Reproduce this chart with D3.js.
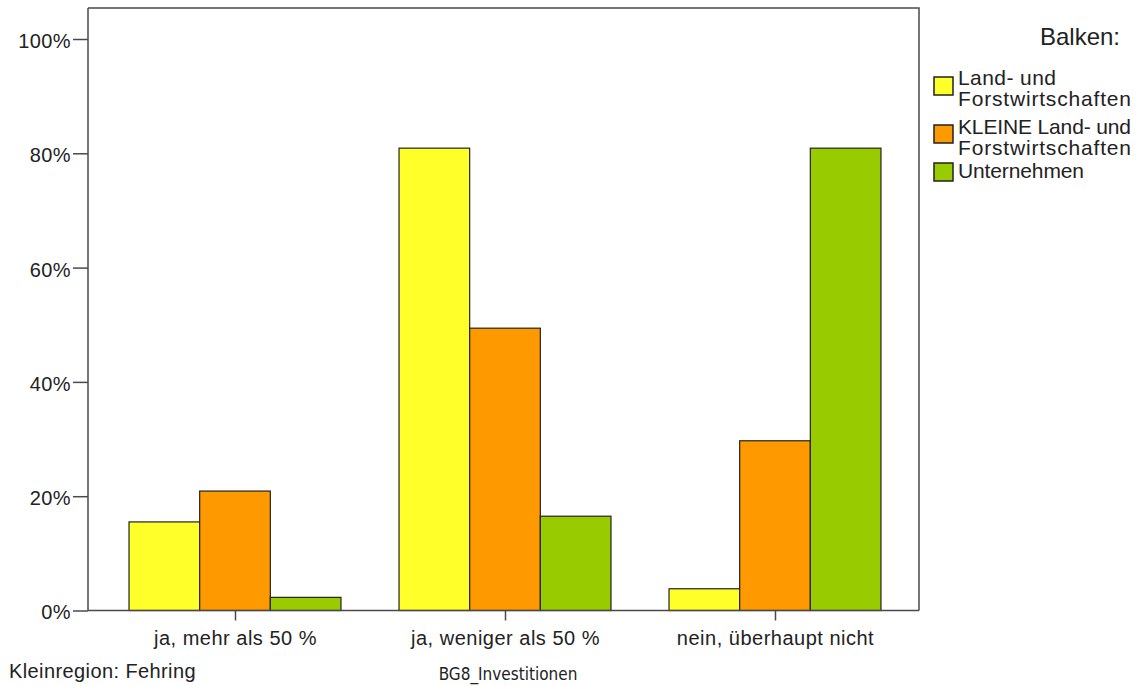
<!DOCTYPE html>
<html><head><meta charset="utf-8">
<script src="https://cdn.jsdelivr.net/npm/d3@7"></script>
<style>body{margin:0;background:#fff}svg{display:block}</style>
</head><body>
<svg id="c" width="1137" height="686"></svg>
<script>
const categories = ["ja, mehr als 50 %", "ja, weniger als 50 %", "nein, überhaupt nicht"];
const seriesNames = [["Land- und", "Forstwirtschaften"], ["KLEINE Land- und", "Forstwirtschaften"], ["Unternehmen"]];
const seriesKeys = ["lf", "klf", "u"];
const colors = ["#ffff29", "#ff9900", "#99cc00"];
const valuesLF = [15.5, 80.9, 3.8];
const valuesKLF = [20.9, 49.4, 29.7];
const valuesU = [2.3, 16.5, 80.9];
const yTicks = [0, 20, 40, 60, 80, 100];
const seriesValues = [valuesLF, valuesKLF, valuesU];

const svg = d3.select("#c");
const font = "'Liberation Sans', Arial, sans-serif";
const L = 88, R = 919, T = 8, B = 610.5;

const y = d3.scaleLinear().domain([0, 100]).range([B, 39]);
const x0 = d3.scaleBand().domain(categories).range([100, 910]).paddingInner(0.215).paddingOuter(0.1075);
const x1 = d3.scaleBand().domain(seriesKeys).range([0, x0.bandwidth()]).padding(0);

// frame
svg.append("path").attr("d", `M${L},${T}H${R}V${B}`).attr("fill", "none").attr("stroke", "#4a4a4a").attr("stroke-width", 1.5);

// bars
categories.forEach((c, ci) => {
  seriesKeys.forEach((k, si) => {
    const v = seriesValues[si][ci];
    svg.append("rect")
      .attr("x", x0(c) + x1(k)).attr("y", y(v))
      .attr("width", x1.bandwidth()).attr("height", B - y(v))
      .attr("fill", colors[si]).attr("stroke", "#222").attr("stroke-width", 1.2);
  });
});

// y axis
const yAxis = d3.axisLeft(y).tickValues(yTicks).tickFormat(d => d + "%").tickSize(15).tickPadding(2);
const gy = svg.append("g").attr("transform", `translate(${L},0)`).call(yAxis);
gy.select(".domain").attr("stroke", "#4a4a4a").attr("stroke-width", 1.5).attr("d", `M0,${T}V${B}`);
gy.selectAll(".tick line").attr("stroke", "#4a4a4a").attr("stroke-width", 1.5);
gy.selectAll(".tick text").attr("font-family", font).attr("font-size", 20).attr("letter-spacing", 0.4)
  .attr("fill", "#222").attr("dy", "0.42em");

// x axis
const xAxis = d3.axisBottom(d3.scalePoint().domain(categories).range([x0(categories[0]) + x0.bandwidth()/2, x0(categories[2]) + x0.bandwidth()/2])).tickSize(10).tickPadding(10);
const gx = svg.append("g").attr("transform", `translate(0,${B})`).call(xAxis);
gx.select(".domain").attr("stroke", "#4a4a4a").attr("stroke-width", 1.5).attr("d", `M${L},0H${R}`);
gx.selectAll(".tick line").attr("stroke", "#4a4a4a").attr("stroke-width", 1.5);
gx.selectAll(".tick text").attr("font-family", font).attr("font-size", 20).attr("letter-spacing", 0.5).attr("fill", "#222");

// bottom texts
svg.append("text").attr("x", 9).attr("y", 678).attr("font-family", font).attr("font-size", 20).attr("letter-spacing", 0.4).attr("fill", "#222").text("Kleinregion: Fehring");
svg.append("text").attr("x", 508).attr("y", 680).attr("text-anchor", "middle").attr("font-family", "'Liberation Sans Narrow', 'DejaVu Sans Condensed', sans-serif").attr("font-size", 17).attr("fill", "#222").text("BG8_Investitionen");

// legend
svg.append("text").attr("x", 1120).attr("y", 45).attr("text-anchor", "end").attr("font-family", font).attr("font-size", 24).attr("fill", "#222").text("Balken:");
const legY = [77, 125, 163];
const legBase = [85, 134, 178];
const legWidths = [[98, 173], [173, 173], [126]];
seriesNames.forEach((lines, i) => {
  svg.append("rect").attr("x", 934).attr("y", legY[i]).attr("width", 19).attr("height", 18)
    .attr("fill", colors[i]).attr("stroke", "#222").attr("stroke-width", 1.5);
  const t = svg.append("text").attr("font-family", font).attr("font-size", 21).attr("fill", "#222");
  lines.forEach((ln, j) => {
    t.append("tspan").attr("x", 958).attr("y", legBase[i] + j * 21)
      .attr("textLength", legWidths[i][j]).attr("lengthAdjust", "spacing").text(ln);
  });
});
</script>
</body></html>
